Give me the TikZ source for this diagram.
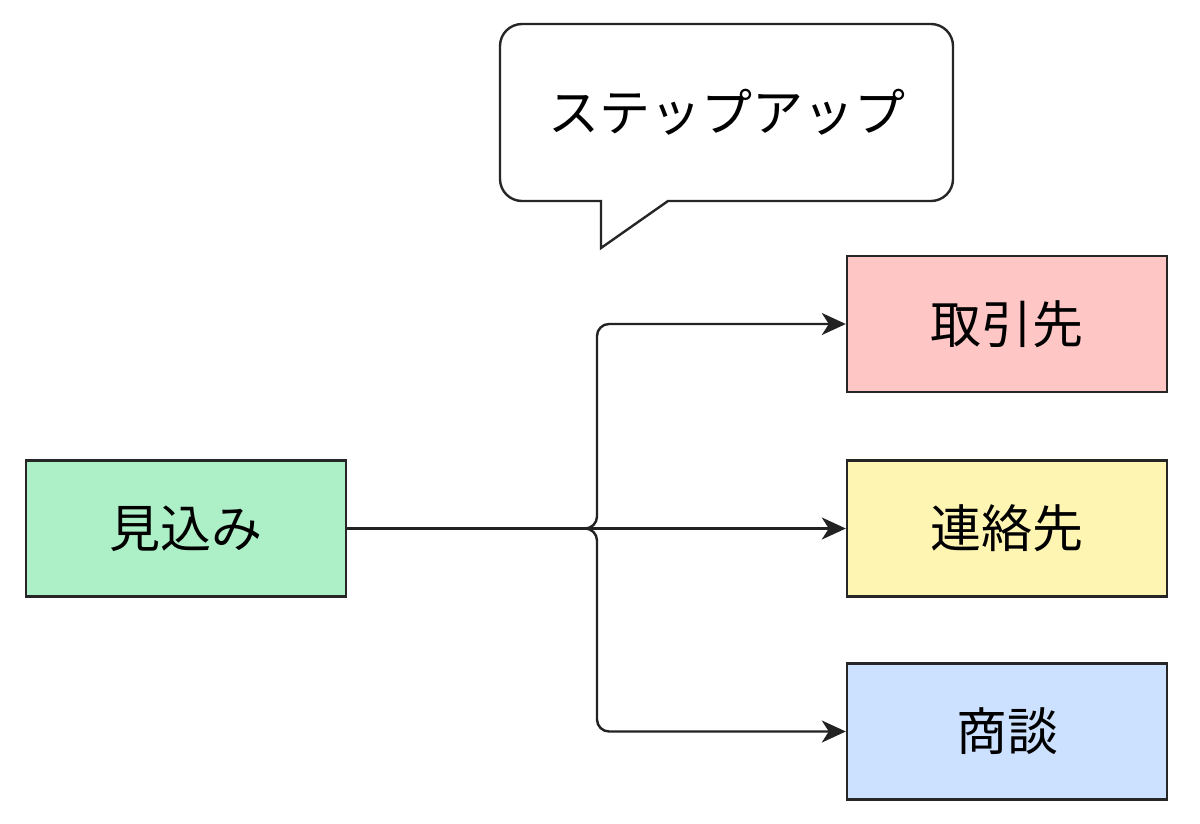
\documentclass[tikz,border=0pt]{standalone}
\usepackage{fontspec}
\setmainfont{Noto Sans CJK JP}
\usetikzlibrary{arrows.meta}
\definecolor{cgreen}{HTML}{ADF0C7}
\definecolor{cpink}{HTML}{FFC6C6}
\definecolor{cyellow}{HTML}{FFF5B3}
\definecolor{cblue}{HTML}{CCE0FF}
\definecolor{edgec}{HTML}{222222}
\tikzset{
  lbl/.style={font=\fontsize{51}{56}\selectfont},
  box/.style={draw=black!85, line width=2.4pt, minimum width=320pt, minimum height=136pt, inner sep=0pt, lbl},
  conn/.style={draw=edgec, line width=2.4pt, rounded corners=12pt, -{Stealth[length=24pt,width=22pt,inset=7pt]}},
}
\begin{document}
\begin{tikzpicture}[x=1pt,y=-1pt]
\useasboundingbox (0,0) rectangle (1200,823);
\node[box, fill=cgreen] (m) at (186,528.5) {見込み};
\node[box, fill=cpink] (t) at (1007,324) {取引先};
\node[box, fill=cyellow] (r) at (1007,528.5) {連絡先};
\node[box, fill=cblue] (s) at (1007,731.5) {商談};
\coordinate (j) at (597,528.5);
\draw[conn] (m.east) -- (j) |- (t.west);
\draw[conn] (m.east) -- (r.west);
\draw[conn] (m.east) -- (j) |- (s.west);
\draw[line width=2.4pt, draw=black!85, fill=white] (601,248) -- (668,201) [rounded corners=22pt] -- (953,201) -- (953,24) -- (500,24) -- (500,201) [sharp corners] -- (601,201) -- cycle;
\node[lbl] (c) at (726.5,112) {ステップアップ};
\end{tikzpicture}
\end{document}
